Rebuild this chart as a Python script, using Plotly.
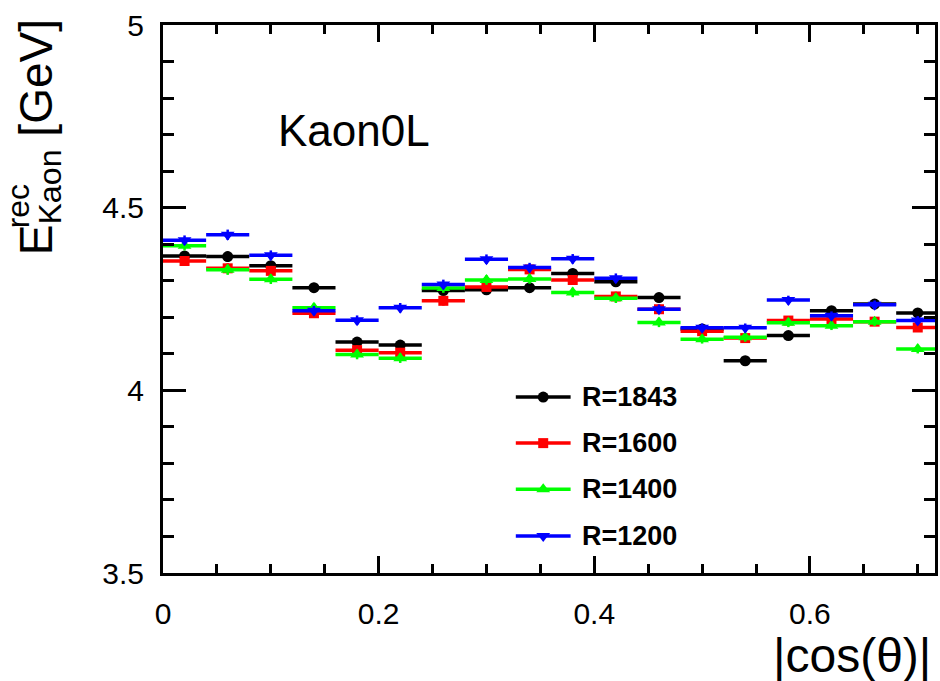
import plotly.graph_objects as go

# ---- data ----
bin_centers = [0.02, 0.06, 0.10, 0.14, 0.18, 0.22, 0.26, 0.30, 0.34,
               0.38, 0.42, 0.46, 0.50, 0.54, 0.58, 0.62, 0.66, 0.70]
half_width = [0.02] * 18

labels = ["R=1843", "R=1600", "R=1400", "R=1200"]
e_1843 = [4.368, 4.366, 4.341, 4.281, 4.132, 4.124, 4.273, 4.275, 4.281,
          4.320, 4.297, 4.254, 4.168, 4.081, 4.150, 4.218, 4.236, 4.212]
e_1600 = [4.354, 4.334, 4.327, 4.211, 4.110, 4.103, 4.245, 4.283, 4.331,
          4.302, 4.257, 4.222, 4.162, 4.143, 4.191, 4.195, 4.188, 4.172]
e_1400 = [4.396, 4.330, 4.304, 4.226, 4.098, 4.088, 4.280, 4.302, 4.305,
          4.268, 4.252, 4.186, 4.140, 4.145, 4.185, 4.177, 4.188, 4.113]
e_1200 = [4.411, 4.426, 4.370, 4.218, 4.192, 4.226, 4.290, 4.359, 4.336,
          4.360, 4.307, 4.222, 4.171, 4.171, 4.247, 4.204, 4.234, 4.191]
err = [0.013, 0.014, 0.013, 0.013, 0.013, 0.013, 0.013, 0.013, 0.013,
       0.013, 0.013, 0.013, 0.012, 0.012, 0.012, 0.012, 0.012, 0.012]

series = [e_1843, e_1600, e_1400, e_1200]
colors = ["#000000", "#ff0000", "#00ff00", "#0000ff"]
symbols = ["circle", "square", "triangle-up", "triangle-down"]
msizes = [11, 10, 12, 12]

FONT = "Liberation Sans, Arial, Helvetica, sans-serif"

fig = go.Figure()
for vals, col, sym, ms, lab in zip(series, colors, symbols, msizes, labels):
    fig.add_trace(go.Scatter(
        x=bin_centers, y=vals, mode="markers", name=lab, showlegend=False,
        marker=dict(color=col, symbol=sym, size=ms, line=dict(width=0)),
        error_x=dict(type="data", array=half_width, color=col, thickness=3.5, width=0),
        error_y=dict(type="data", array=err, color=col, thickness=2.5, width=0),
    ))

# ---- manual legend (ROOT style) ----
leg_y = [0.321, 0.237, 0.153, 0.0675]
lx0, lx1, lxm, ltx = 0.457, 0.528, 0.4925, 0.540
for ly, col, sym, ms, lab in zip(leg_y, colors, symbols, msizes, labels):
    fig.add_shape(type="line", xref="paper", yref="paper", x0=lx0, x1=lx1,
                  y0=ly, y1=ly, line=dict(color=col, width=3.5))
    fig.add_trace(go.Scatter(x=[lxm], y=[ly], xaxis="x2", yaxis="y2", mode="markers",
                             showlegend=False, hoverinfo="skip",
                             marker=dict(color=col, symbol=sym, size=ms)))
    fig.add_annotation(x=ltx, y=ly, xref="paper", yref="paper", text="<b>%s</b>" % lab,
                       showarrow=False, xanchor="left", yanchor="middle",
                       font=dict(family=FONT, size=27, color="black"))

axis_common = dict(showline=True, linecolor="black", linewidth=3, mirror="ticks",
                   ticks="inside", tickcolor="black", tickwidth=2.5,
                   showgrid=False, zeroline=False,
                   tickfont=dict(family=FONT, size=30, color="black"))

fig.update_layout(
    width=940, height=681,
    margin=dict(l=163, r=2, t=25, b=108),
    paper_bgcolor="white", plot_bgcolor="white",
    showlegend=False,
    xaxis=dict(range=[0, 0.716], dtick=0.2, tick0=0, ticklen=17,
               minor=dict(dtick=0.05, ticklen=9, ticks="inside", tickcolor="black", tickwidth=2.5),
               ticklabelstandoff=12, **axis_common),
    yaxis=dict(range=[3.5, 5.0], dtick=0.5, tick0=3.5, ticklen=23,
               minor=dict(dtick=0.1, ticklen=11, ticks="inside", tickcolor="black", tickwidth=2.5),
               ticklabelstandoff=10, **axis_common),
    xaxis2=dict(overlaying="x", range=[0, 1], visible=False),
    yaxis2=dict(overlaying="y", range=[0, 1], visible=False),
)

# Kaon0L label
fig.add_annotation(x=0.248, y=0.808, xref="paper", yref="paper", text="Kaon0L",
                   showarrow=False, xanchor="center", yanchor="middle",
                   font=dict(family=FONT, size=44, color="black"))
# x title
fig.add_annotation(x=0.997, y=-0.15, xref="paper", yref="paper", text="|cos(θ)|",
                   showarrow=False, xanchor="right", yanchor="middle",
                   font=dict(family=FONT, size=48, color="black"))
# y title
fig.add_annotation(x=-0.16, y=0.577, xref="paper", yref="paper",
                   text="E<sub>Kaon</sub> [GeV]", textangle=-90,
                   showarrow=False, xanchor="center", yanchor="bottom",
                   font=dict(family=FONT, size=46, color="black"))
fig.add_annotation(x=-0.188, y=0.625, xref="paper", yref="paper",
                   text="rec", textangle=-90,
                   showarrow=False, xanchor="center", yanchor="bottom",
                   font=dict(family=FONT, size=32, color="black"))

fig.write_html("out.html")
